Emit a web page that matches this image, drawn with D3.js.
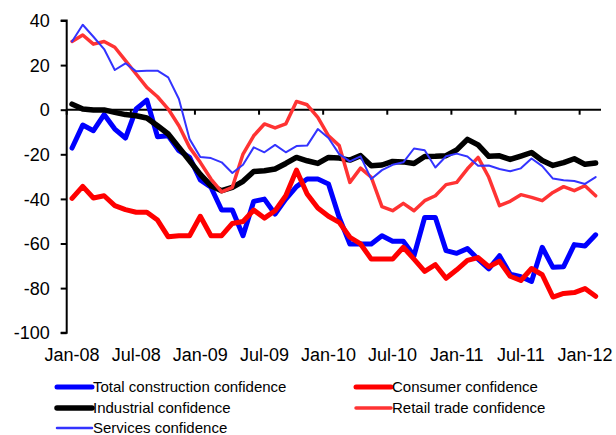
<!DOCTYPE html>
<html>
<head>
<meta charset="utf-8">
<script src="https://cdn.jsdelivr.net/npm/d3@7"></script>
<style>
  html, body { margin: 0; padding: 0; background: #fff; }
  svg { display: block; font-family: "Liberation Sans", Arial, sans-serif; }
</style>
</head>
<body>
<svg id="chart" width="616" height="435"></svg>
<script>
// ---- data ----
const months = (function () {
  const names = ["Jan","Feb","Mar","Apr","May","Jun","Jul","Aug","Sep","Oct","Nov","Dec"];
  const out = [];
  for (let k = 0; k < 50; k++) {
    const yr = 8 + Math.floor(k / 12);
    out.push(names[k % 12] + "-" + String(yr).padStart(2, "0"));
  }
  return out;
})();
const xTickLabels = ["Jan-08","Jul-08","Jan-09","Jul-09","Jan-10","Jul-10","Jan-11","Jul-11","Jan-12"];
const yTicks = [-100, -80, -60, -40, -20, 0, 20, 40];

const construction = [-17.2,-6.9,-9.4,-2.2,-8.7,-12.7,0.3,4.3,-12.1,-11.7,-18.4,-21.4,-31.5,-34.8,-45,-45,-56.5,-41.1,-40.1,-46.8,-40.1,-34.5,-31.1,-31.1,-33.3,-48.3,-60.2,-60.2,-60.2,-56.5,-59,-59,-65.5,-48.3,-48.3,-63.2,-64.4,-62.3,-67,-71.4,-65.5,-73.7,-74.9,-77,-61.7,-70.7,-70.4,-60.5,-61.1,-56.1];
const consumer = [-39.8,-34.4,-39.6,-38.6,-43,-44.8,-46,-46,-49.5,-57,-56.5,-56.5,-47.8,-56.5,-56.5,-51,-50.1,-45,-48.6,-45.3,-38.6,-27.1,-37.8,-44.1,-47.8,-50.5,-57.2,-60.2,-67,-67,-67,-61.7,-67,-72.5,-69.5,-75.6,-71.8,-67.6,-66.3,-70.4,-68,-74.7,-76.6,-71.2,-74,-84,-82.4,-82,-80.2,-83.7];
const industrial = [2.5,0.3,-0.1,-0.1,-1.2,-2.2,-2.7,-3.7,-7.2,-10.9,-16.9,-22.9,-29,-34.1,-36.3,-34.8,-32.1,-27.7,-27.4,-26.6,-24.1,-21.4,-22.9,-24.1,-21.4,-21.7,-22.6,-20.6,-25.1,-24.8,-23.2,-23.4,-24.1,-21,-20.9,-20.6,-18,-13.3,-15.8,-20.9,-20.7,-22.3,-20.8,-19.2,-22.8,-25,-23.7,-22,-24.5,-23.9];
const retail = [30.6,33.5,29.4,30.6,28,22,16,10,5.8,0.3,-7.2,-16.9,-23.6,-31.1,-36.8,-34.8,-19.9,-11.7,-6.4,-8.2,-6.4,3.7,2.2,-3.4,-11.7,-16.1,-32.6,-26.2,-30.3,-43.5,-45.3,-42,-45.3,-40.8,-38.6,-33.6,-32.6,-26.5,-21.4,-30.3,-43,-41.1,-38.1,-39.3,-40.8,-37.1,-34.5,-36.3,-34.1,-38.6];
const services = [30.6,38.1,32.7,27.2,17.8,20.8,17.2,17.5,17.5,14.5,4.8,-13.2,-21.2,-21.7,-23.6,-28.4,-24.7,-16.9,-19.1,-15.8,-19.1,-16.3,-16.1,-8.7,-12.7,-19.9,-23.2,-20.9,-31.1,-27.1,-24.7,-23.6,-17.4,-18.2,-25.9,-20.9,-19.7,-21,-25.1,-25,-26.6,-27.6,-26.3,-21.9,-25.3,-30.9,-31.6,-32,-33.3,-30.2];

const seriesNames = ["Total construction confidence","Consumer confidence","Industrial confidence","Retail trade confidence","Services confidence"];
const seriesValues = [construction, consumer, industrial, retail, services];
const seriesColors = ["#0000ff","#ff0000","#000000","#ff3333","#3333ff"];
const seriesWidths = [5, 5, 5.5, 3.5, 2];

// ---- layout ----
const svg = d3.select("#chart");
const plotLeft = 66.7, plotRight = 601, plotTop = 20.5, plotBottom = 332.7;

const x = d3.scaleBand().domain(months).range([plotLeft, plotRight]).paddingInner(0).paddingOuter(0);
const y = d3.scaleLinear().domain([-100, 40]).range([plotBottom, plotTop]);
const cx = m => x(m) + x.bandwidth() / 2;

// y axis
const yAxis = d3.axisLeft(y).tickValues(yTicks).tickSize(6).tickPadding(11).tickFormat(d3.format("d"));
const gy = svg.append("g").attr("transform", `translate(${plotLeft},0)`).call(yAxis);
gy.select(".domain").attr("stroke", "#000").attr("stroke-width", 2).attr("d", `M-6,${plotTop}H0V${plotBottom}H-6`);
gy.selectAll(".tick line").attr("stroke", "#000").attr("stroke-width", 2);
gy.selectAll(".tick text").attr("fill", "#000").style("font-size", "18px").attr("dy", "0.34em")
  .text(d => d < 0 ? "-" + Math.abs(d) : d);

// x axis line at 0 with ticks every 6 months (at band boundaries)
const tickMonths = months.filter((m, i) => i % 6 === 0);
const gx = svg.append("g");
gx.append("line").attr("x1", plotLeft).attr("x2", plotRight).attr("y1", y(0)).attr("y2", y(0))
  .attr("stroke", "#000").attr("stroke-width", 2);
gx.selectAll("line.tk").data(tickMonths).join("line").attr("class", "tk")
  .attr("x1", d => x(d)).attr("x2", d => x(d))
  .attr("y1", y(0)).attr("y2", y(0) + 5)
  .attr("stroke", "#000").attr("stroke-width", 2);

// x tick labels at the bottom, centred on the labelled months
const xAxis = d3.axisBottom(x).tickValues(tickMonths).tickSize(0).tickPadding(0)
  .tickFormat((d, i) => xTickLabels[i]);
const gxl = svg.append("g").attr("transform", "translate(0,348)").call(xAxis);
gxl.select(".domain").remove();
gxl.selectAll(".tick").attr("transform", d => `translate(${cx(d)},0)`);
gxl.selectAll(".tick text").attr("fill", "#000").style("font-size", "18px");

// series
const line = d3.line().x((d, i) => cx(months[i])).y(d => y(d)).curve(d3.curveLinear);
seriesValues.forEach((vals, k) => {
  svg.append("path").datum(vals)
    .attr("fill", "none")
    .attr("stroke", seriesColors[k])
    .attr("stroke-width", seriesWidths[k])
    .attr("stroke-linejoin", "round")
    .attr("stroke-linecap", "round")
    .attr("d", line);
});

// legend
const legendPos = [
  {lx: 57, ly: 387}, {lx: 356, ly: 387},
  {lx: 57, ly: 408}, {lx: 356, ly: 408},
  {lx: 57, ly: 428}
];
const lg = svg.append("g");
seriesNames.forEach((name, k) => {
  const p = legendPos[k];
  lg.append("line").attr("x1", p.lx).attr("x2", p.lx + 35).attr("y1", p.ly).attr("y2", p.ly)
    .attr("stroke", seriesColors[k]).attr("stroke-width", Math.max(seriesWidths[k], 2.5)).attr("stroke-linecap", "round");
  lg.append("text").attr("x", p.lx + 36).attr("y", p.ly).attr("dy", "0.35em")
    .style("font-size", "15px").attr("fill", "#000").text(name);
});
</script>
</body>
</html>
